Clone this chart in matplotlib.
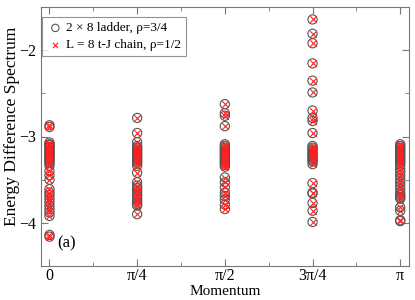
import numpy as np
import matplotlib
matplotlib.use("Agg")
import matplotlib.pyplot as plt
from matplotlib.ticker import MultipleLocator

plt.rcParams['font.family'] = ['Liberation Serif', 'DejaVu Serif']
plt.rcParams['mathtext.fontset'] = 'stix'

# momentum in units of pi
momenta = [0.0, 0.25, 0.5, 0.75, 1.0]
tick_labels = ['0', 'π/4', 'π/2', '3π/4', 'π']

e_k0 = [-2.87, -2.89, -3.07, -3.09, -3.10, -3.12, -3.13, -3.15, -3.17, -3.18, -3.19,
        -3.20, -3.22, -3.24, -3.25, -3.27, -3.29, -3.31, -3.34, -3.40, -3.45, -3.50,
        -3.61, -3.65, -3.68, -3.72, -3.76, -3.80, -3.84, -3.88, -3.92, -4.14, -4.16]
e_k1 = [-2.785, -2.96, -3.065, -3.11, -3.13, -3.15, -3.17, -3.19, -3.21, -3.23, -3.25,
        -3.27, -3.29, -3.31, -3.34, -3.42, -3.53, -3.57, -3.60, -3.63, -3.66, -3.69,
        -3.72, -3.75, -3.78, -3.80, -3.90]
e_k2 = [-2.625, -2.73, -2.76, -2.88, -3.09, -3.11, -3.13, -3.15, -3.17, -3.19, -3.21,
        -3.23, -3.25, -3.27, -3.29, -3.31, -3.33, -3.35, -3.475, -3.53, -3.59, -3.65,
        -3.69, -3.73, -3.79, -3.84]
e_k3 = [-1.644, -1.81, -1.92, -2.153, -2.353, -2.49, -2.70, -2.785, -2.82, -2.96,
        -3.11, -3.13, -3.15, -3.17, -3.19, -3.21, -3.23, -3.25, -3.27, -3.29, -3.32,
        -3.54, -3.65, -3.66, -3.77, -3.86, -3.99]
e_k4 = [-3.09, -3.11, -3.13, -3.15, -3.17, -3.19, -3.21, -3.23, -3.25, -3.27, -3.29,
        -3.31, -3.34, -3.38, -3.41, -3.45, -3.49, -3.53, -3.57, -3.61, -3.65, -3.68,
        -3.70, -3.72, -3.82, -3.86, -3.97, -3.98]

spectra = [e_k0, e_k1, e_k2, e_k3, e_k4]

fig = plt.figure(figsize=(4.15, 3.0), dpi=100)
ax = fig.add_axes([40.7/415, 1 - 266/300, (409 - 40.7)/415, (266 - 7)/300])

xs, ys = [], []
for k, vals in zip(momenta, spectra):
    xs += [k] * len(vals)
    ys += vals

ax.scatter(xs, ys, s=44, facecolors='none', edgecolors='#555555', linewidths=0.8,
           label='2 × 8 ladder, ρ=3/4', zorder=3)
ax.scatter(xs, ys, s=22, marker='x', color='#ff2020', linewidths=0.8,
           label='L = 8 t-J chain, ρ=1/2', zorder=4)

ax.set_xlim(-0.025, 1.025)
ax.set_ylim(-4.5, -1.5)
ax.set_xticks(momenta)
ax.set_xticklabels(tick_labels)
ax.xaxis.set_minor_locator(MultipleLocator(0.125))
ax.yaxis.set_major_locator(MultipleLocator(1.0))
ax.yaxis.set_minor_locator(MultipleLocator(0.5))
ax.tick_params(which='both', direction='in', top=True, right=True, colors='#777777',
               labelcolor='black', labelsize=11.5)
ax.tick_params(which='major', length=5)
ax.tick_params(which='minor', length=3)
ax.tick_params(axis='x', which='major', pad=1.5)
ax.tick_params(axis='y', which='major', pad=3)
for s in ax.spines.values():
    s.set_color('#777777')

ax.set_xlabel('Momentum', fontsize=11)
ax.xaxis.set_label_coords(0.5, -0.074)
ax.set_ylabel('Energy Difference Spectrum', fontsize=12.5, va='center')
ax.yaxis.set_label_coords(-0.079, 0.54)
ax.text(0.045, 0.07, '(a)', transform=ax.transAxes, fontsize=12)

leg = ax.legend(loc='upper left', bbox_to_anchor=(0.004, 0.962), fontsize=9.5,
                frameon=True, fancybox=False, borderpad=0.4, handletextpad=0.2,
                handlelength=1.2, borderaxespad=0.0, labelspacing=0.35,
                markerscale=0.8)
leg.get_frame().set_edgecolor('#777777')
leg.get_frame().set_linewidth(0.8)

fig.savefig('out.png', dpi=100)
